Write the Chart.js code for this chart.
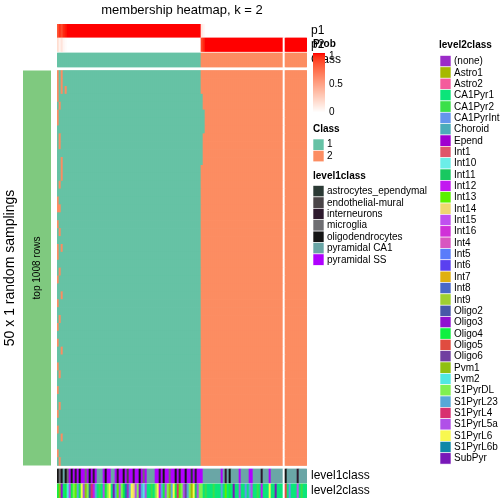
<!DOCTYPE html>
<html>
<head>
<meta charset="utf-8">
<script src="https://cdn.jsdelivr.net/npm/chart.js@4.4.1/dist/chart.umd.min.js"></script>
<style>
  html, body { margin: 0; padding: 0; background: #fff; }
  #wrap { width: 504px; height: 504px; }
</style>
</head>
<body>
<div id="wrap"><canvas id="heatmap" width="504" height="504"></canvas></div>
<script>
// consensus class per column (null = column split gap)
const consensusClass = [
  1, 1, 1, 1, 1, 1, 1, 1, 1, 1,
  1, 1, 1, 1, 1, 1, 1, 1, 1, 1,
  1, 1, 1, 1, 1, 1, 1, 1, 1, 1,
  1, 1, 1, 1, 1, 1, 1, 1, 1, 1,
  1, 1, 1, 1, 1, 1, 1, 1, 1, 1,
  1, 1, 1, 1, 1, 1, 1, 1, 1, 1,
  1, 1, 1, 1, 1, 1, 1, 1, 1, 1,
  1, 1, 2, 2, 2, 2, 2, 2, 2, 2,
  2, 2, 2, 2, 2, 2, 2, 2, 2, 2,
  2, 2, 2, 2, 2, 2, 2, 2, 2, 2,
  2, 2, 2, 2, 2, 2, 2, 2, 2, 2,
  2, 2, 2, null, 2, 2, 2, 2, 2, 2,
  2, 2, 2, 2, 2
];

const probP1 = [
  0.82, 0.93, 0.86, 0.95, 0.98, 1, 1, 1, 1, 1,
  1, 1, 1, 1, 1, 1, 1, 1, 1, 1,
  1, 1, 1, 1, 1, 1, 1, 1, 1, 1,
  1, 1, 1, 1, 1, 1, 1, 1, 1, 1,
  1, 1, 1, 1, 1, 1, 1, 1, 1, 1,
  1, 1, 1, 1, 1, 1, 1, 1, 1, 1,
  1, 1, 1, 1, 1, 1, 1, 1, 1, 1,
  1, 1, 0.12, 0.05, 0, 0, 0, 0, 0, 0,
  0, 0, 0, 0, 0, 0, 0, 0, 0, 0,
  0, 0, 0, 0, 0, 0, 0, 0, 0, 0,
  0, 0, 0, 0, 0, 0, 0, 0, 0, 0,
  0, 0, 0, null, 0, 0, 0, 0, 0, 0,
  0, 0, 0, 0, 0
];

const probP2 = [
  0.18, 0.07, 0.14, 0.05, 0.02, 0, 0, 0, 0, 0,
  0, 0, 0, 0, 0, 0, 0, 0, 0, 0,
  0, 0, 0, 0, 0, 0, 0, 0, 0, 0,
  0, 0, 0, 0, 0, 0, 0, 0, 0, 0,
  0, 0, 0, 0, 0, 0, 0, 0, 0, 0,
  0, 0, 0, 0, 0, 0, 0, 0, 0, 0,
  0, 0, 0, 0, 0, 0, 0, 0, 0, 0,
  0, 0, 0.88, 0.95, 1, 1, 1, 1, 1, 1,
  1, 1, 1, 1, 1, 1, 1, 1, 1, 1,
  1, 1, 1, 1, 1, 1, 1, 1, 1, 1,
  1, 1, 1, 1, 1, 1, 1, 1, 1, 1,
  1, 1, 1, null, 1, 1, 1, 1, 1, 1,
  1, 1, 1, 1, 1
];

// columns where a sampling disagrees with the consensus class (row 0 = top)
const flippedColumns = [
  [0, 2], [0, 2], [0, 2, 4], [0, 72], [1, 72], [0, 72, 73], [0, 72, 73], [72, 73], [1, 72], [1, 72],
  [72], [2, 72], [2], [2], [1], [], [0], [0, 1], [], [0],
  [1], [], [0, 2], [0], [], [1], [0], [], [2], [0],
  [], [1], [0], [], [0], [2], [], [0], [1], [],
  [0], [], [1], [0], [], [0], [2], [], [0], [1]
];

const level1Names = ['astrocytes_ependymal', 'endothelial-mural', 'interneurons', 'microglia',
  'oligodendrocytes', 'pyramidal CA1', 'pyramidal SS'];
const level1Colors = ['#2B3A35', '#4A4548', '#2E1A2E', '#6E6E72', '#151515', '#6AA6A6', '#B000FF'];

const level2Names = ['(none)', 'Astro1', 'Astro2', 'CA1Pyr1', 'CA1Pyr2', 'CA1PyrInt', 'Choroid', 'Epend',
  'Int1', 'Int10', 'Int11', 'Int12', 'Int13', 'Int14', 'Int15', 'Int16', 'Int4', 'Int5', 'Int6', 'Int7',
  'Int8', 'Int9', 'Oligo2', 'Oligo3', 'Oligo4', 'Oligo5', 'Oligo6', 'Pvm1', 'Pvm2', 'S1PyrDL',
  'S1PyrL23', 'S1PyrL4', 'S1PyrL5a', 'S1PyrL6', 'S1PyrL6b', 'SubPyr'];
const level2Colors = ['#9B2BC8', '#A6B800', '#F45C9C', '#0BE57A', '#3BE04A', '#6495ED', '#4BACBA', '#A000D0',
  '#E0566B', '#6BEEE8', '#18C860', '#C218F0', '#5AF000', '#EED870', '#C050F0', '#D030D8', '#D856C0', '#5A7CFA',
  '#5A40F0', '#E0B010', '#4A68C8', '#A0D030', '#4858A8', '#9010D0', '#10F040', '#E04C40', '#7040A0', '#90C010',
  '#50E8E0', '#80F050', '#58A8D8', '#D83070', '#B050E8', '#F8F850', '#1088A8', '#7818B8'];

const level1Class = [
  4, 3, 4, 5, 4, 3, 6, 4, 6, 2,
  6, 4, 6, 6, 3, 6, 4, 6, 2, 6,
  5, 5, 5, 6, 4, 6, 6, 5, 5, 6,
  2, 6, 6, 4, 6, 1, 6, 6, 2, 6,
  6, 4, 6, 3, 6, 5, 5, 5, 5, 6,
  6, 2, 6, 4, 6, 6, 3, 6, 6, 4,
  6, 2, 6, 6, 4, 6, 6, 0, 6, 2,
  6, 6, 6, 5, 5, 5, 5, 5, 5, 5,
  5, 5, 6, 5, 2, 5, 4, 5, 5, 5,
  5, 6, 5, 5, 5, 5, 6, 6, 5, 5,
  5, 5, 2, 5, 5, 5, 6, 5, 5, 5,
  5, 5, 5, null, 4, 5, 5, 5, 5, 5,
  2, 5, 5, 5, 5
];

const level2Class = [
  24, 27, 23, 3, 24, 28, 32, 24, 29, 12,
  30, 24, 33, 32, 27, 29, 22, 31, 11, 30,
  3, 4, 3, 32, 24, 29, 33, 3, 35, 30,
  12, 32, 29, 24, 34, 0, 30, 33, 13, 32,
  29, 23, 30, 28, 32, 3, 3, 4, 3, 29,
  33, 11, 30, 24, 32, 29, 27, 30, 33, 24,
  31, 12, 29, 32, 26, 30, 29, 1, 33, 10,
  32, 29, 29, 3, 4, 3, 3, 3, 4, 3,
  3, 3, 30, 3, 12, 3, 24, 3, 35, 3,
  3, 32, 3, 3, 5, 3, 30, 32, 3, 3,
  4, 3, 11, 3, 3, 3, 33, 3, 3, 35,
  3, 3, 3, null, 25, 3, 5, 3, 3, 3,
  14, 3, 4, 3, 3
];

const classColors = { 1: '#66C2A5', 2: '#FC8D62' };
const FONT = '"Liberation Sans", Arial, sans-serif';

// white -> red in CIELAB, like colorRamp2
function probColor(v) {
  if (v == null) return '#FFFFFF';
  const L = 100 + (53.24 - 100) * v, A = 80.09 * v, B = 67.2 * v;
  const fy = (L + 16) / 116, fx = fy + A / 500, fz = fy - B / 200;
  const finv = t => t > 0.206893 ? t * t * t : (t - 16 / 116) / 7.787;
  const X = 0.95047 * finv(fx), Y = finv(fy), Z = 1.08883 * finv(fz);
  const lin = [
    3.2406 * X - 1.5372 * Y - 0.4986 * Z,
    -0.9689 * X + 1.8758 * Y + 0.0415 * Z,
    0.0557 * X - 0.2040 * Y + 1.0570 * Z
  ];
  const rgb = lin.map(c => {
    c = Math.min(1, Math.max(0, c));
    c = c <= 0.0031308 ? 12.92 * c : 1.055 * Math.pow(c, 1 / 2.4) - 0.055;
    return Math.round(c * 255);
  });
  return `rgb(${rgb[0]},${rgb[1]},${rgb[2]})`;
}

const columns = consensusClass.map((_, i) => 'c' + (i + 1));
const WHITE = '#FFFFFF';
const CLEAR = 'rgba(0,0,0,0)';

// track heights in y units (1 unit = 1px)
const annoH = 14, rowH = 7.9;

function track(label, colors, h) {
  return {
    label: label,
    data: columns.map(() => h),
    backgroundColor: colors,
    borderWidth: 0,
    barPercentage: 1,
    categoryPercentage: 1,
    stack: 'hm'
  };
}

const datasets = [];
datasets.push(track('level2class', level2Class.map(v => v == null ? WHITE : level2Colors[v]), annoH));
datasets.push(track('gap', CLEAR, 1));
datasets.push(track('level1class', level1Class.map(v => v == null ? WHITE : level1Colors[v]), annoH));
datasets.push(track('gap', CLEAR, 3.5));
for (let r = flippedColumns.length - 1; r >= 0; r--) {
  const colors = consensusClass.map((c, i) => {
    if (c == null) return WHITE;
    const cls = flippedColumns[r].includes(i) ? (c === 1 ? 2 : 1) : c;
    return classColors[cls];
  });
  datasets.push(track('sampling ' + (r + 1), colors, rowH));
}
datasets.push(track('gap', CLEAR, 3.5));
datasets.push(track('Class', consensusClass.map(c => c == null ? WHITE : classColors[c]), annoH));
datasets.push(track('gap', CLEAR, 1.5));
datasets.push(track('p2', probP2.map(probColor), 13.5));
datasets.push(track('p1', probP1.map(probColor), annoH));

const heatBottom = annoH + 1 + annoH + 3.5;
const heatTop = heatBottom + rowH * flippedColumns.length;

function text(ctx, str, x, y, size, bold, align) {
  ctx.font = (bold ? 'bold ' : '') + size + 'px ' + FONT;
  ctx.textAlign = align || 'left';
  ctx.textBaseline = 'middle';
  ctx.fillStyle = '#000';
  ctx.fillText(str, x, y);
}

const decorations = {
  id: 'decorations',
  afterDraw(chart) {
    const ctx = chart.ctx;
    const y = chart.scales.y;
    const yt = y.getPixelForValue(heatTop), yb = y.getPixelForValue(heatBottom);
    ctx.save();

    // row annotation bar + row titles
    ctx.fillStyle = '#7FC97F';
    ctx.fillRect(23, yt, 28, yb - yt);
    const mid = (yt + yb) / 2;
    ctx.save();
    ctx.translate(37, mid); ctx.rotate(-Math.PI / 2);
    text(ctx, 'top 1008 rows', 0, 0, 10, false, 'center');
    ctx.restore();
    ctx.save();
    ctx.translate(10, mid); ctx.rotate(-Math.PI / 2);
    text(ctx, '50 x 1 random samplings', 0, 0, 14, false, 'center');
    ctx.restore();

    // annotation names
    const right = chart.chartArea.right + 4;
    text(ctx, 'p1', right, y.getPixelForValue(467), 12);
    text(ctx, 'p2', right, y.getPixelForValue(453.25), 12);
    text(ctx, 'Class', right, y.getPixelForValue(438), 12);
    text(ctx, 'level1class', right, y.getPixelForValue(22), 12);
    text(ctx, 'level2class', right, y.getPixelForValue(7), 12);

    // Prob legend
    text(ctx, 'Prob', 313, 44, 10, true);
    for (let py = 0; py < 60; py++) {
      ctx.fillStyle = probColor(1 - py / 59);
      ctx.fillRect(313, 53 + py, 12, 1.2);
    }
    text(ctx, '1', 329, 56, 10);
    text(ctx, '0.5', 329, 84, 10);
    text(ctx, '0', 329, 112, 10);

    // Class legend
    text(ctx, 'Class', 313, 129, 10, true);
    [1, 2].forEach((c, i) => {
      ctx.fillStyle = classColors[c];
      ctx.fillRect(313, 139 + i * 11.4, 11, 11.4);
      ctx.strokeStyle = '#fff'; ctx.lineWidth = 0.6;
      ctx.strokeRect(313, 139 + i * 11.4, 11, 11.4);
      text(ctx, String(c), 327, 144.7 + i * 11.4, 10);
    });

    // level1class legend
    text(ctx, 'level1class', 313, 176, 10, true);
    level1Names.forEach((n, i) => {
      const top = 185.5 + i * 11.4;
      ctx.fillStyle = level1Colors[i];
      ctx.fillRect(313, top, 11, 11.4);
      ctx.strokeStyle = '#fff'; ctx.lineWidth = 0.6;
      ctx.strokeRect(313, top, 11, 11.4);
      text(ctx, n, 327, top + 5.9, 10);
    });

    // level2class legend
    text(ctx, 'level2class', 439, 45, 10, true);
    level2Names.forEach((n, i) => {
      const top = 55.5 + i * 11.35;
      ctx.fillStyle = level2Colors[i];
      ctx.fillRect(440, top, 11, 11.35);
      ctx.strokeStyle = '#fff'; ctx.lineWidth = 0.6;
      ctx.strokeRect(440, top, 11, 11.35);
      text(ctx, n, 454, top + 5.9, 10);
    });

    ctx.restore();
  }
};

new Chart(document.getElementById('heatmap').getContext('2d'), {
  type: 'bar',
  data: { labels: columns, datasets: datasets },
  options: {
    responsive: false,
    animation: false,
    devicePixelRatio: 1,
    layout: { padding: { left: 57, right: 197, top: 0, bottom: 6 } },
    scales: {
      x: { stacked: true, display: false },
      y: { stacked: true, display: false, min: 0, max: 474 }
    },
    plugins: {
      legend: { display: false },
      tooltip: { enabled: false },
      title: {
        display: true,
        text: 'membership heatmap, k = 2',
        color: '#000',
        font: { family: FONT, size: 13, weight: 'normal' },
        padding: { top: 3, bottom: 5.4 }
      }
    }
  },
  plugins: [decorations]
});
</script>
</body>
</html>
